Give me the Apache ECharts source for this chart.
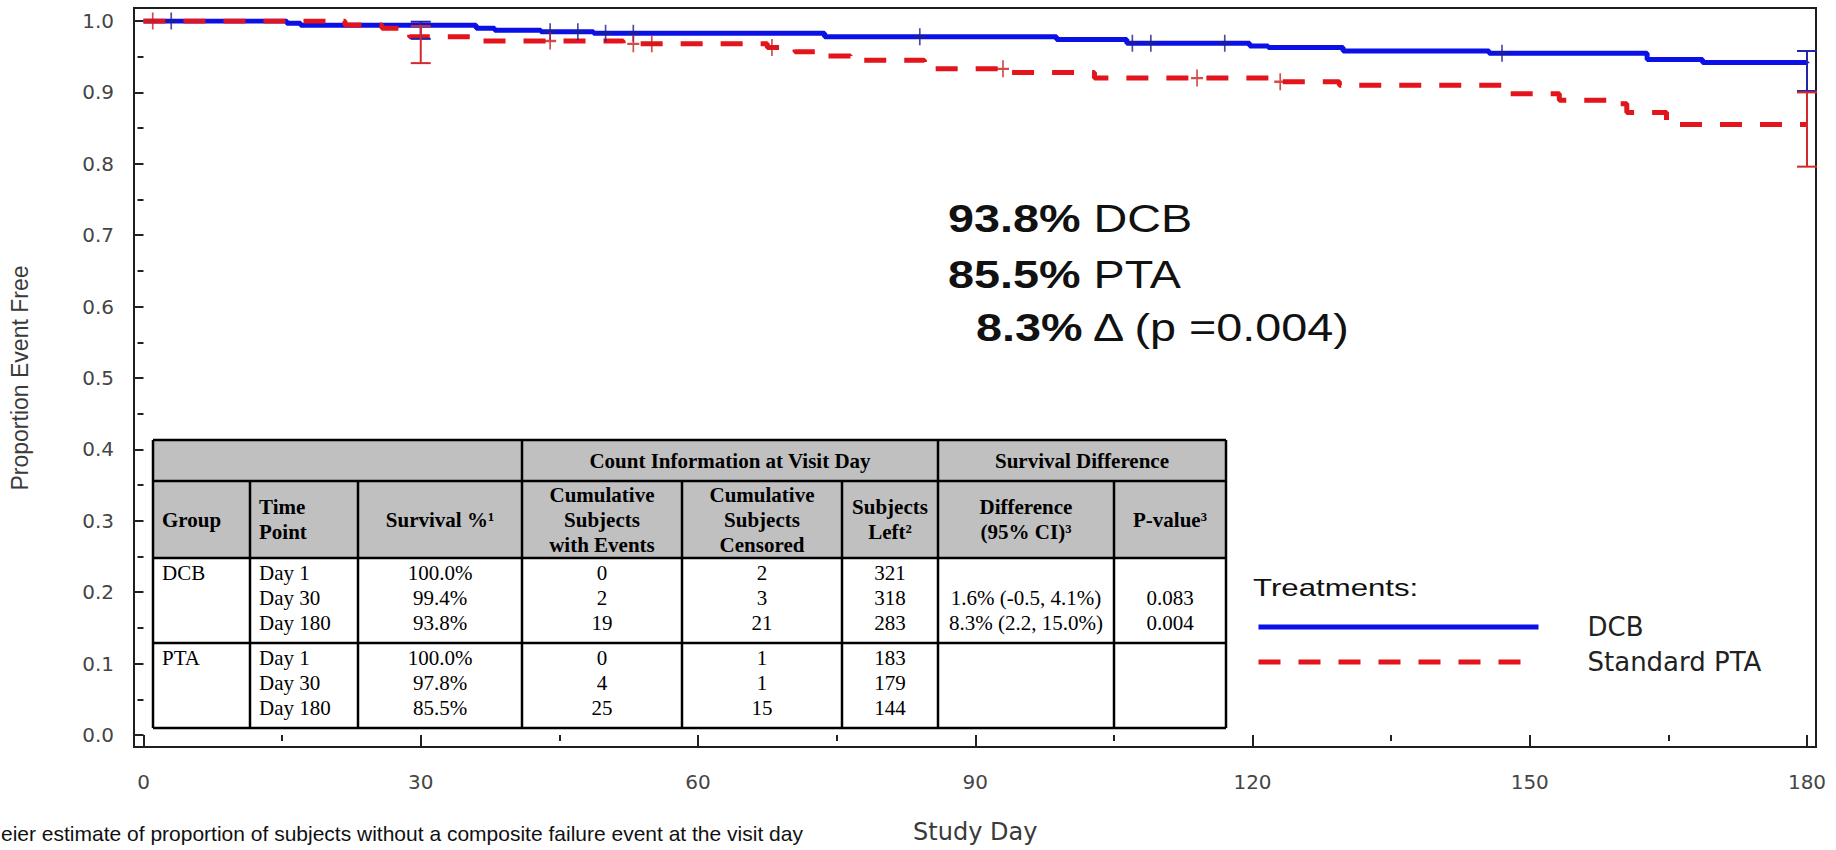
<!DOCTYPE html>
<html>
<head>
<meta charset="utf-8">
<script src="https://cdn.jsdelivr.net/npm/echarts@6/dist/echarts.min.js"></script>
<style>
  html, body { margin: 0; padding: 0; background: #fff; }
  #chart { width: 1836px; height: 850px; }
</style>
</head>
<body>
<div id="chart"></div>
<script>
// KM step curves: day of each drop and the level right after it
const dcbDays = [0, 15.5, 17, 36, 38, 43, 48.7, 73.7, 98.8, 106.4, 119.7, 121.7, 129.8, 145.6, 162.7, 168.7, 180];
const dcbSurv = [1.0, 0.997, 0.994, 0.990, 0.987, 0.985, 0.983, 0.978, 0.974, 0.969, 0.965, 0.963, 0.958, 0.955, 0.946, 0.942, 0.941];
const ptaDays = [0, 21.8, 25.8, 28.8, 36.7, 51.9, 67.5, 70.5, 74, 76.5, 84.5, 93.5, 102.9, 121.9, 129.4, 147.8, 153.2, 159, 160.5, 164.8, 180];
const ptaSurv = [1.0, 0.9945, 0.990, 0.978, 0.972, 0.968, 0.963, 0.957, 0.951, 0.945, 0.933, 0.928, 0.920, 0.915, 0.910, 0.898, 0.889, 0.884, 0.872, 0.855, 0.855];

// censored subjects (tick marks on the curves)
const dcbCensorDays = [3, 44, 47, 50, 53, 84, 107, 109, 117, 147];
const ptaCensorDays = [1, 44, 53, 55, 68, 93, 114, 123];

// 95% CI bars: [day, lower, upper]
const dcbCI = [[30, 0.975, 0.999], [180, 0.902, 0.958]];
const ptaCI = [[30, 0.941, 0.993], [180, 0.796, 0.900]];

// table contents
const groups = ['DCB', 'PTA'];
const timePoints = ['Day 1', 'Day 30', 'Day 180'];
const survivalPct = [['100.0%', '99.4%', '93.8%'], ['100.0%', '97.8%', '85.5%']];
const cumEvents = [[0, 2, 19], [0, 4, 25]];
const cumCensored = [[2, 3, 21], [1, 1, 15]];
const subjectsLeft = [[321, 318, 283], [183, 179, 144]];
const diffCI = ['', '1.6% (-0.5, 4.1%)', '8.3% (2.2, 15.0%)'];
const pValues = ['', '0.083', '0.004'];

const summaryLines = [['93.8%', ' DCB'], ['85.5%', ' PTA'], ['8.3%', ' \u0394 (p =0.004)']];

const BLUE = '#0b10e6';
const RED = '#e3141c';
const SANS = '"Liberation Sans", Arial, sans-serif';
const SERIF = '"Liberation Serif", "Times New Roman", serif';
const PLUS = 'path://M6,0L6,17M0,8.5L12,8.5';

function survAt(days, surv, d) {
  let v = surv[0];
  for (let i = 0; i < days.length; i++) {
    if (days[i] <= d) v = surv[i];
  }
  return v;
}

function ciSeries(name, data, color) {
  return {
    name: name,
    type: 'custom',
    xAxisIndex: 0,
    yAxisIndex: 0,
    z: 6,
    data: data,
    renderItem(params, api) {
      const top = api.coord([api.value(0), api.value(2)]);
      const bot = api.coord([api.value(0), api.value(1)]);
      const half = 10;
      const st = { stroke: color, lineWidth: 2 };
      return {
        type: 'group',
        children: [
          { type: 'line', shape: { x1: top[0], y1: top[1], x2: bot[0], y2: bot[1] }, style: st },
          { type: 'line', shape: { x1: top[0] - half, y1: top[1], x2: top[0] + half, y2: top[1] }, style: st },
          { type: 'line', shape: { x1: bot[0] - half, y1: bot[1], x2: bot[0] + half, y2: bot[1] }, style: st }
        ]
      };
    }
  };
}

// --- table as graphic elements ---
const colX = [153, 250, 358, 522, 682, 842, 938, 1114, 1226];
const rowY = [440, 481, 558, 643, 728];

function txt(text, x, y, align, bold) {
  return {
    type: 'text',
    style: {
      text: String(text), x: x, y: y,
      textAlign: align, align: align,
      textVerticalAlign: 'middle', verticalAlign: 'middle',
      fontFamily: SERIF, fontSize: 21, fontWeight: bold ? 'bold' : 'normal',
      fill: '#000'
    }
  };
}
function hline(x1, x2, y) {
  return { type: 'line', shape: { x1: x1, y1: y, x2: x2, y2: y }, style: { stroke: '#000', lineWidth: 2.5 } };
}
function vline(x, y1, y2) {
  return { type: 'line', shape: { x1: x, y1: y1, x2: x, y2: y2 }, style: { stroke: '#000', lineWidth: 2.5 } };
}
function mid(i) { return (colX[i] + colX[i + 1]) / 2; }

function buildTable() {
  const ch = [];
  const L = colX[0], R = colX[colX.length - 1];
  ch.push({ type: 'rect', shape: { x: L, y: rowY[0], width: R - L, height: rowY[2] - rowY[0] }, style: { fill: '#c0c0c0' } });
  ch.push({ type: 'rect', shape: { x: L, y: rowY[2], width: R - L, height: rowY[4] - rowY[2] }, style: { fill: '#fff' } });
  rowY.forEach(y => ch.push(hline(L, R, y)));
  [0, 3, 6, 8].forEach(i => ch.push(vline(colX[i], rowY[0], rowY[4])));
  [1, 2, 4, 5, 7].forEach(i => ch.push(vline(colX[i], rowY[1], rowY[4])));

  // header row 1
  const h1 = (rowY[0] + rowY[1]) / 2;
  ch.push(txt('Count Information at Visit Day', (colX[3] + colX[6]) / 2, h1, 'center', true));
  ch.push(txt('Survival Difference', (colX[6] + colX[8]) / 2, h1, 'center', true));

  // header row 2 (multi-line cells)
  const hc = (rowY[1] + rowY[2]) / 2;
  const lh = 25;
  const heads = [
    [['Group'], 0, 'left'],
    [['Time', 'Point'], 1, 'left'],
    [['Survival %\u00b9'], 2, 'center'],
    [['Cumulative', 'Subjects', 'with Events'], 3, 'center'],
    [['Cumulative', 'Subjects', 'Censored'], 4, 'center'],
    [['Subjects', 'Left\u00b2'], 5, 'center'],
    [['Difference', '(95% CI)\u00b3'], 6, 'center'],
    [['P-value\u00b3'], 7, 'center']
  ];
  heads.forEach(([lines, c, align]) => {
    const x = align === 'left' ? colX[c] + 9 : mid(c);
    lines.forEach((t, k) => {
      ch.push(txt(t, x, hc + (k - (lines.length - 1) / 2) * lh, align, true));
    });
  });

  // body
  groups.forEach((g, gi) => {
    const y0 = rowY[2 + gi] + 15;
    ch.push(txt(g, colX[0] + 9, y0, 'left', false));
    timePoints.forEach((tp, r) => {
      const y = y0 + r * lh;
      ch.push(txt(tp, colX[1] + 9, y, 'left', false));
      ch.push(txt(survivalPct[gi][r], mid(2), y, 'center', false));
      ch.push(txt(cumEvents[gi][r], mid(3), y, 'center', false));
      ch.push(txt(cumCensored[gi][r], mid(4), y, 'center', false));
      ch.push(txt(subjectsLeft[gi][r], mid(5), y, 'center', false));
      if (gi === 0) {
        ch.push(txt(diffCI[r], mid(6), y, 'center', false));
        ch.push(txt(pValues[r], mid(7), y, 'center', false));
      }
    });
  });
  return { type: 'group', z: 20, children: ch };
}

// the plot's own texts are horizontally stretched, so scale them on x
function stretchedText(text, x, y, size, rich, scaleX) {
  return {
    type: 'text', x: x, y: y, scaleX: scaleX, z: 20,
    style: {
      text: text, x: 0, y: 0,
      textAlign: 'left', align: 'left',
      textVerticalAlign: 'middle', verticalAlign: 'middle',
      fontFamily: SANS, fontSize: size,
      fill: '#111', rich: rich
    }
  };
}

const summaryY = [219, 275, 328];
const summaryGraphics = summaryLines.map((ln, i) => stretchedText(
  '{b|' + ln[0] + '}' + ln[1],
  i === 2 ? 976 : 948, summaryY[i], 38,
  { b: { fontWeight: 'bold', fontSize: 38, fontFamily: SANS, fill: '#111' } },
  1.23));

const chart = echarts.init(document.getElementById('chart'), null, { renderer: 'svg' });

const option = {
  backgroundColor: '#fff',
  animation: false,
  grid: [
    { left: 143.5, right: 29, top: 21, bottom: 115 },
    { left: 134, right: 20, top: 8, bottom: 103, show: true, borderColor: '#1e1e1e', borderWidth: 2, backgroundColor: 'transparent' }
  ],
  xAxis: [
    {
      gridIndex: 0, type: 'value', min: 0, max: 180, interval: 30, offset: 12,
      name: 'Study Day', nameLocation: 'middle', nameGap: 73,
      nameTextStyle: { fontFamily: 'DejaVu Sans', fontSize: 24, color: '#3a3a3a' },
      axisLine: { show: false },
      axisTick: { show: true, length: 12, lineStyle: { color: '#222', width: 2 } },
      minorTick: { show: true, splitNumber: 2, length: 6, lineStyle: { color: '#222', width: 2 } },
      splitLine: { show: false },
      axisLabel: { margin: 25, fontFamily: 'DejaVu Sans', fontSize: 20, color: '#454545' }
    },
    { gridIndex: 1, type: 'value', min: 0, max: 1, show: false }
  ],
  yAxis: [
    {
      gridIndex: 0, type: 'value', min: 0, max: 1, interval: 0.1, offset: 9.5,
      name: 'Proportion Event Free', nameLocation: 'middle', nameGap: 103, nameRotate: 90,
      nameTextStyle: { fontFamily: SANS, fontSize: 23, color: '#3a3a3a' },
      axisLine: { show: false },
      axisTick: { show: true, length: 10, lineStyle: { color: '#222', width: 2 } },
      minorTick: { show: true, splitNumber: 2, length: 6, lineStyle: { color: '#222', width: 2 } },
      splitLine: { show: false },
      axisLabel: { margin: 20, fontFamily: 'DejaVu Sans', fontSize: 20, color: '#454545', formatter: v => v.toFixed(1) }
    },
    { gridIndex: 1, type: 'value', min: 0, max: 1, show: false }
  ],
  legend: {
    data: ['DCB', 'Standard PTA'],
    orient: 'vertical',
    left: 1251, top: 609,
    itemWidth: 280, itemHeight: 14, itemGap: 9,
    selectedMode: false,
    lineStyle: { width: 5 },
    itemStyle: { color: 'rgba(0,0,0,0)', borderWidth: 0, opacity: 0 },
    textStyle: { fontFamily: 'DejaVu Sans', fontSize: 26, color: '#222', padding: [0, 0, 0, 44] }
  },
  graphic: [
    buildTable(),
    ...summaryGraphics,
    stretchedText('Treatments:', 1253, 588, 24, null, 1.3),
    {
      type: 'text', x: 1, y: 833, z: 20,
      style: {
        text: 'eier estimate of proportion of subjects without a composite failure event at the visit day',
        x: 0, y: 0, textAlign: 'left', align: 'left', textVerticalAlign: 'middle', verticalAlign: 'middle',
        fontFamily: SANS, fontSize: 21, fill: '#111'
      }
    }
  ],
  series: [
    {
      name: 'DCB', type: 'line', xAxisIndex: 0, yAxisIndex: 0, step: 'end', symbol: 'none', z: 2,
      lineStyle: { color: BLUE, width: 5 },
      itemStyle: { color: BLUE },
      data: dcbDays.map((d, i) => [d, dcbSurv[i]])
    },
    {
      name: 'Standard PTA', type: 'line', xAxisIndex: 0, yAxisIndex: 0, step: 'end', symbol: 'none', z: 3,
      lineStyle: { color: RED, width: 5, type: [22, 18] },
      itemStyle: { color: RED },
      data: ptaDays.map((d, i) => [d, ptaSurv[i]])
    },
    {
      name: 'DCB censored', type: 'scatter', xAxisIndex: 0, yAxisIndex: 0, z: 5,
      symbol: PLUS, symbolSize: [12, 17],
      itemStyle: { color: 'rgba(0,0,0,0)', borderColor: '#1f1f8c', borderWidth: 2 },
      data: dcbCensorDays.map(d => [d, survAt(dcbDays, dcbSurv, d)])
    },
    {
      name: 'PTA censored', type: 'scatter', xAxisIndex: 0, yAxisIndex: 0, z: 5,
      symbol: PLUS, symbolSize: [12, 17],
      itemStyle: { color: 'rgba(0,0,0,0)', borderColor: '#c81e1e', borderWidth: 2 },
      data: ptaCensorDays.map(d => [d, survAt(ptaDays, ptaSurv, d)])
    },
    ciSeries('DCB 95% CI', dcbCI, '#2424a8'),
    ciSeries('PTA 95% CI', ptaCI, '#d22a2a')
  ]
};

chart.setOption(option);
</script>
</body>
</html>
